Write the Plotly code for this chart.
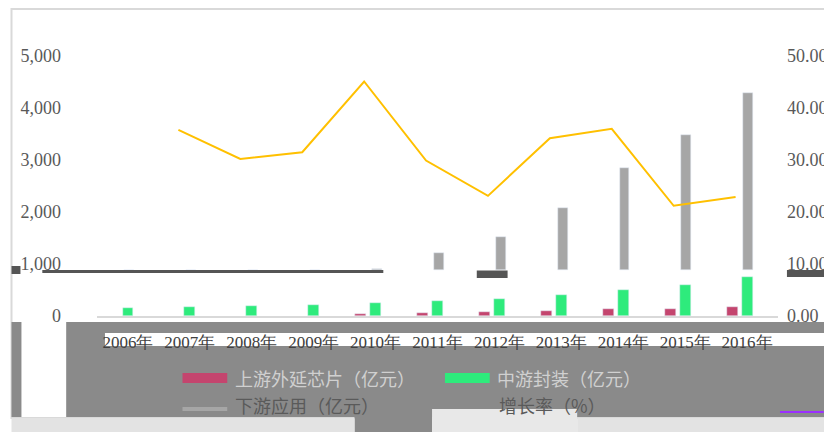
import plotly.graph_objects as go

# ---------------- data ----------------
years = ["2006年", "2007年", "2008年", "2009年", "2010年", "2011年",
         "2012年", "2013年", "2014年", "2015年", "2016年"]
upstream = [None, None, None, None, 35, 58, 77, 104, 142, 142, 181]          # 上游外延芯片（亿元）
midstream = [148, 167, 186, 205, 244, 283, 321, 398, 508, 604, 744]         # 中游封装（亿元）
downstream = [400, 480, 580, 700, 900, 1212, 1519, 2077, 2852, 3475, 4288]  # 下游应用（亿元）
growth = [None, 35.8, 30.2, 31.5, 45.1, 29.9, 23.1, 34.2, 36.0, 21.2, 22.9]  # 增长率（%）
names = ["上游外延芯片（亿元）", "中游封装（亿元）", "下游应用（亿元）", "增长率（%）"]
left_ticks = [0, 1000, 2000, 3000, 4000, 5000]
right_ticks = [0, 10, 20, 30, 40, 50]

# ---------------- geometry helpers (page pixels, page has 8px body margin) ----------------
W, H = 832, 432
OFF = 8
L, R, T, B = 95, 780, 56, 316   # plot area in page pixels


def px(x):
    return (x - L) / (R - L)


def py(y):
    return (B - y) / (B - T)


RED = "#C4456E"
GREEN = "#2EEB7C"
GRAY = "#A6A6A6"
YELLOW = "#FFC000"
CUT = 880  # visible floor of the grey bars in the reference

fig = go.Figure()

fig.add_trace(go.Bar(x=years, y=upstream, name=names[0], marker_color=RED,
                     width=0.177, offset=-0.33, showlegend=False))
fig.add_trace(go.Bar(x=years, y=midstream, name=names[1], marker_color=GREEN,
                     width=0.177, offset=-0.088, showlegend=False))
fig.add_trace(go.Bar(x=years, y=[max(v - CUT, 0) for v in downstream], base=CUT,
                     name=names[2], marker_color=GRAY,
                     width=0.16, offset=-0.06, showlegend=False))
fig.add_trace(go.Scatter(x=years, y=growth, name=names[3], mode="lines",
                         line=dict(color=YELLOW, width=2),
                         xaxis="x2", yaxis="y2", showlegend=False))

axfont = dict(family="Liberation Serif, serif", size=18, color="#595959")

shapes = []


def rect(x0, y0, x1, y1, fill, line=None, layer="below"):
    shapes.append(dict(type="rect", xref="paper", yref="paper",
                       x0=px(x0), x1=px(x1), y0=py(y1), y1=py(y0),
                       fillcolor=fill, line=dict(width=0) if line is None else line,
                       layer=layer))


# outer frame
rect(9, 9, 845, 418, "rgba(0,0,0,0)", line=dict(color="#D9D9D9", width=2))
# grey block under the axis
rect(64, 322, 845, 417, "#8A8A8A")
rect(9, 322, 19, 417, "#8A8A8A")
rect(354, 417, 432, 445, "#8A8A8A")
# light bottom strip
rect(9, 418, 354, 445, "#E3E3E3")
rect(432, 409, 578, 445, "#E8E8E8")
rect(578, 418, 845, 445, "#E3E3E3")
# white strip behind the category labels
rect(103, 333, 845, 346, "#FFFFFF")
# dark bands
rect(40, 270, 383, 273, "#555555", layer="above")
rect(9, 266, 18, 274, "#555555", layer="above")
rect(477, 270.5, 508, 278, "#555555", layer="above")
rect(789, 270, 845, 277, "#555555", layer="above")
# purple stroke
rect(782, 411, 826, 413, "#9B30FF")
# legend swatches
rect(181, 373, 226, 383, RED)
rect(445, 373, 490, 383, GREEN)
rect(181, 407, 226, 411, GRAY)

legfont_light = dict(family="Noto Sans CJK SC", size=18, color="#D0D0D0")
legfont_dark = dict(family="Noto Sans CJK SC", size=18, color="#5A5A5A")
annotations = [
    dict(text=names[0], x=px(232), y=py(378), xref="paper", yref="paper",
         xanchor="left", yanchor="middle", showarrow=False, font=legfont_light),
    dict(text=names[1], x=px(495), y=py(378), xref="paper", yref="paper",
         xanchor="left", yanchor="middle", showarrow=False, font=legfont_light),
    dict(text=names[2], x=px(232), y=py(405), xref="paper", yref="paper",
         xanchor="left", yanchor="middle", showarrow=False, font=legfont_dark),
    dict(text=names[3], x=px(497), y=py(405), xref="paper", yref="paper",
         xanchor="left", yanchor="middle", showarrow=False, font=legfont_dark),
]

fig.update_layout(
    width=W, height=H,
    margin=dict(l=L - OFF, r=W - (R - OFF), t=T - OFF, b=H - (B - OFF), pad=0),
    paper_bgcolor="#FFFFFF", plot_bgcolor="rgba(0,0,0,0)",
    barmode="overlay", bargap=0,
    showlegend=False,
    xaxis=dict(type="category", categoryorder="array", categoryarray=years,
               range=[-0.5, 10.5], showgrid=False, zeroline=False,
               showline=True, linecolor="#D9D9D9", linewidth=2,
               ticks="", ticklabelstandoff=10,
               tickfont=dict(family="Liberation Serif, serif", size=17, color="#404040")),
    xaxis2=dict(type="category", categoryorder="array", categoryarray=years,
                overlaying="x", range=[-0.5 + 0.185, 10.5 + 0.185], visible=False),
    yaxis=dict(range=[0, 5000], tickvals=left_ticks, tickformat=",d",
               showgrid=False, zeroline=False, showline=False, ticks="",
               ticklabelstandoff=35, tickfont=axfont),
    yaxis2=dict(range=[0, 50], tickvals=right_ticks, tickformat=".2f",
                overlaying="y", side="right", anchor="x",
                showgrid=False, zeroline=False, showline=False, ticks="",
                ticklabelstandoff=8, tickfont=axfont),
    shapes=shapes, annotations=annotations,
)

fig.write_html("out.html")
